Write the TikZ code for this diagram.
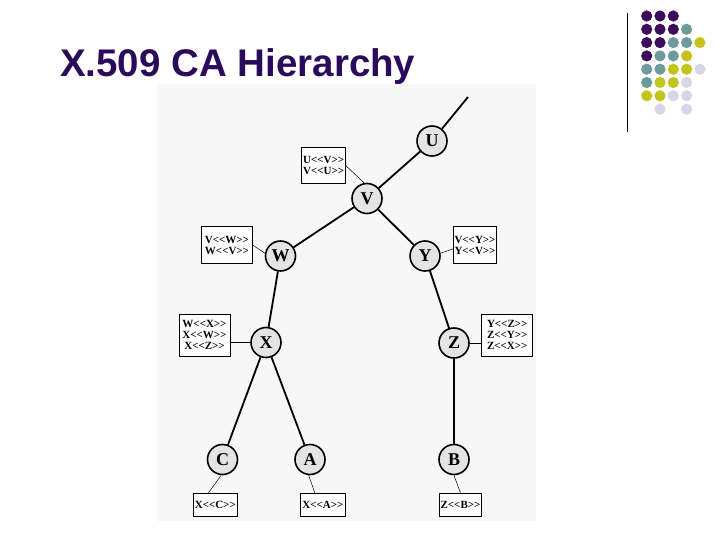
\documentclass[tikz,border=0pt]{standalone}
\usepackage{fontspec}
\setmainfont{Liberation Serif}
\newfontfamily\titlefont{Liberation Sans}
\definecolor{titlepurple}{HTML}{2B0A5C}
\definecolor{dpurple}{HTML}{3C0D5A}
\definecolor{dteal}{HTML}{6D9B9B}
\definecolor{dyellow}{HTML}{C4C41C}
\definecolor{dlav}{HTML}{D6D6E6}
\definecolor{bggray}{HTML}{F7F7F7}
\definecolor{nodegray}{HTML}{E4E4E4}
\newcommand\dlt{\textless\kern0pt\textless}
\newcommand\dgt{\textgreater\kern0pt\textgreater}
\begin{document}
\begin{tikzpicture}[x=1pt,y=-1pt,
  ca/.style={circle, draw, line width=1.6pt, fill=nodegray, minimum size=30pt, inner sep=0pt,
    font=\fontsize{18}{18}\selectfont\bfseries},
  cert/.style={draw, line width=0.6pt, fill=white, align=center, inner sep=0pt,
    font=\fontsize{11}{11}\selectfont\bfseries},
  edge/.style={line width=1.8pt},
  thin/.style={line width=0.5pt},
  dot/.style={radius=5.6pt}]
\useasboundingbox (0,0) rectangle (720,540);
\fill[white] (0,0) rectangle (720,540);
\fill[bggray] (157,84) rectangle (536,521);
% title
\node[anchor=base west, inner sep=0pt, text=titlepurple,
  font=\titlefont\bfseries\fontsize{38.5}{40}\selectfont] (title) at (60,77) {X.509 CA Hierarchy};
% vertical rule
\draw[line width=0.9pt] (627,13) -- (627,132);
% dots
\foreach \c/\r/\col in {1/1/dpurple,2/1/dpurple,3/1/dpurple,
  1/2/dpurple,2/2/dpurple,3/2/dpurple,4/2/dteal,
  1/3/dpurple,2/3/dpurple,3/3/dteal,4/3/dteal,5/3/dyellow,
  1/4/dpurple,2/4/dteal,3/4/dteal,4/4/dyellow,
  1/5/dteal,2/5/dteal,3/5/dyellow,4/5/dyellow,5/5/dlav,
  1/6/dteal,2/6/dyellow,3/6/dyellow,4/6/dlav,
  1/7/dyellow,2/7/dyellow,3/7/dlav,4/7/dlav,
  2/8/dlav,4/8/dlav}
  \fill[\col] ({646.7+13.3*(\c-1)},{16+13.3*(\r-1)}) circle[dot];
% CA nodes
\node[ca] (U) at (432,141) {U};
\node[ca] (V) at (367,198.5) {V};
\node[ca] (W) at (280.5,256) {W};
\node[ca] (Y) at (425,256) {Y};
\node[ca] (X) at (266,342.5) {X};
\node[ca] (Z) at (454,343) {Z};
\node[ca] (C) at (222.5,459.5) {C};
\node[ca] (A) at (310,459.5) {A};
\node[ca] (B) at (454,459.5) {B};
\coordinate (top) at (468,97);
% tree edges
\draw[edge] (U) -- (top);
\draw[edge] (U) -- (V);
\draw[edge] (V) -- (W);
\draw[edge] (V) -- (Y);
\draw[edge] (W) -- (X);
\draw[edge] (Y) -- (Z);
\draw[edge] (X) -- (C);
\draw[edge] (X) -- (A);
\draw[edge] (Z) -- (B);
% certificate boxes
\node[cert, minimum width=44pt, minimum height=36pt] (uv) at (323.7,165.8) {U\dlt V\dgt\\V\dlt U\dgt};
\node[cert, minimum width=50.6pt, minimum height=36.6pt] (vw) at (227,245) {V\dlt W\dgt\\W\dlt V\dgt};
\node[cert, minimum width=43.4pt, minimum height=36.6pt] (vy) at (475,245) {V\dlt Y\dgt\\Y\dlt V\dgt};
\node[cert, minimum width=51pt, minimum height=41.7pt] (wx) at (204.5,335.2) {W\dlt X\dgt\\X\dlt W\dgt\\X\dlt Z\dgt};
\node[cert, minimum width=51pt, minimum height=41.7pt] (yz) at (507.2,335.2) {Y\dlt Z\dgt\\Z\dlt Y\dgt\\Z\dlt X\dgt};
\node[cert, minimum width=44pt, minimum height=22.7pt] (xc) at (215.3,504.7) {X\dlt C\dgt};
\node[cert, minimum width=44.3pt, minimum height=22.7pt] (xa) at (322.9,504.7) {X\dlt A\dgt};
\node[cert, minimum width=42.4pt, minimum height=22.7pt] (zb) at (460.5,504.7) {Z\dlt B\dgt};
% thin connectors
\draw[thin] (uv.east) -- (V.100);
\draw[thin] (vw.east) -- (W.170);
\draw[thin] (Y.10) -- (vy.190);
\draw[thin] (X.west) -- (X.west -| wx.east);
\draw[thin] (Z.east) -- (Z.east -| yz.west);
\draw[thin] (C.265) -- ([xshift=-7pt]xc.north);
\draw[thin] (A.265) -- ([xshift=-8pt]xa.north);
\draw[thin] (B.south) -- (zb.north);
\end{tikzpicture}
\end{document}
